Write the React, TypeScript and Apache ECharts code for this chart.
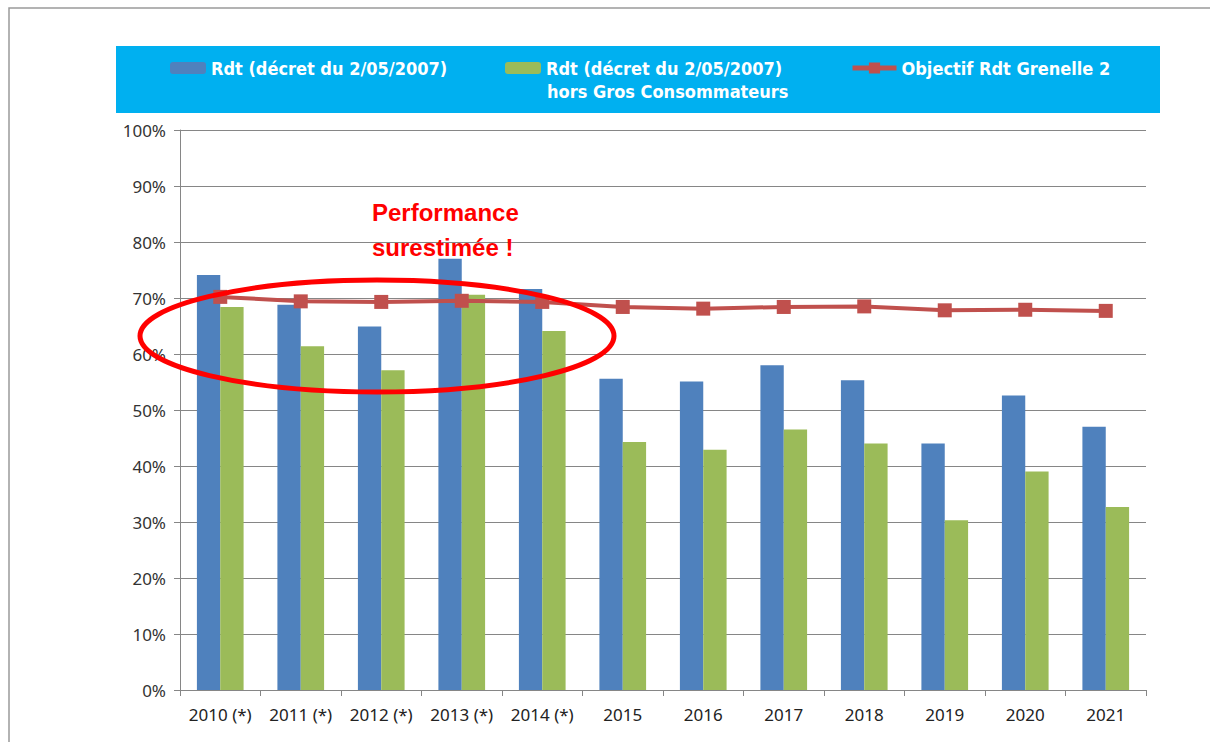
import React, { useEffect, useRef } from "react";
import * as echarts from "echarts";

const categories = ["2010 (*)", "2011 (*)", "2012 (*)", "2013 (*)", "2014 (*)", "2015", "2016", "2017", "2018", "2019", "2020", "2021"];
const rdtValues = [74.1, 68.8, 64.9, 77.0, 71.6, 55.6, 55.1, 58.0, 55.3, 44.0, 52.6, 47.0];
const rdtHorsGCValues = [68.4, 61.4, 57.1, 70.6, 64.1, 44.3, 42.9, 46.5, 44.0, 30.3, 39.0, 32.7];
const objectifValues = [70.2, 69.4, 69.3, 69.5, 69.3, 68.4, 68.1, 68.4, 68.5, 67.8, 67.9, 67.7];
const yTicks = [0, 10, 20, 30, 40, 50, 60, 70, 80, 90, 100];

const NAME_BLUE = "Rdt (décret du 2/05/2007)";
const NAME_GREEN = "Rdt (décret du 2/05/2007) hors Gros Consommateurs";
const NAME_RED = "Objectif Rdt Grenelle 2";

const legendFont = {
  color: "#ffffff",
  fontFamily: "'Liberation Sans Narrow', 'DejaVu Sans Condensed', Arial, sans-serif",
  fontWeight: "bold" as const,
  fontSize: 18,
};

export default function App() {
  const ref = useRef<HTMLDivElement>(null);
  useEffect(() => {
    if (!ref.current) return;
    const chart = echarts.init(ref.current, undefined, { renderer: "svg" });
    chart.setOption({
      animation: false,
      backgroundColor: "#ffffff",
      grid: { left: 180, right: 64, top: 130, bottom: 52, containLabel: false },
      legend: [
        {
          data: [NAME_BLUE], left: 170, top: 59, itemWidth: 36, itemHeight: 12, itemGap: 6,
          textStyle: legendFont, selectedMode: false, padding: 0,
        },
        {
          data: [NAME_GREEN], left: 505, top: 59, itemWidth: 36, itemHeight: 12, itemGap: 6,
          textStyle: legendFont, selectedMode: false, padding: 0,
          formatter: () => "Rdt (décret du 2/05/2007)",
        },
        {
          data: [NAME_RED], left: 850, top: 59, itemWidth: 44, itemHeight: 14, itemGap: 4,
          textStyle: legendFont, selectedMode: false, padding: 0,
          lineStyle: { width: 5, color: "#C0504D" },
        },
      ],
      xAxis: {
        type: "category",
        data: categories,
        axisLine: { show: true, lineStyle: { color: "#868686", width: 1 } },
        axisTick: { show: true, length: 6, lineStyle: { color: "#868686" } },
        axisLabel: {
          interval: 0, margin: 16, color: "#222",
          fontFamily: "'Noto Sans', 'Open Sans', sans-serif", fontSize: 17,
        },
      },
      yAxis: {
        type: "value",
        min: yTicks[0],
        max: yTicks[yTicks.length - 1],
        interval: 10,
        axisLine: { show: true, lineStyle: { color: "#868686", width: 1 } },
        axisTick: { show: true, length: 6, lineStyle: { color: "#868686" } },
        splitLine: { show: true, lineStyle: { color: "#868686", width: 1 } },
        axisLabel: {
          formatter: "{value}%", margin: 14, color: "#333",
          fontFamily: "'Noto Sans', 'Open Sans', sans-serif", fontSize: 17,
        },
      },
      series: [
        {
          name: NAME_BLUE, type: "bar", data: rdtValues, barGap: "0%", barCategoryGap: "42%",
          itemStyle: { color: "#4F81BD" },
        },
        {
          name: NAME_GREEN, type: "bar", data: rdtHorsGCValues,
          itemStyle: { color: "#9BBB59" },
        },
        {
          name: NAME_RED, type: "line", data: objectifValues, symbol: "rect", symbolSize: 14,
          lineStyle: { color: "#C0504D", width: 4 }, itemStyle: { color: "#C0504D" }, z: 5,
        },
      ],
      graphic: [
        {
          type: "rect", z: -10, silent: true,
          shape: { x: 9, y: 8, width: 1400, height: 900 },
          style: { fill: "none", stroke: "#9a9a9a", lineWidth: 1.5 },
        },
        {
          type: "rect", z: 0, silent: true,
          shape: { x: 116, y: 46, width: 1044, height: 67 },
          style: { fill: "#00B0F0" },
        },
        {
          type: "text", z: 10, x: 547, y: 91, silent: true,
          style: {
            text: "hors Gros Consommateurs", fill: "#ffffff",
            fontFamily: legendFont.fontFamily, fontWeight: "bold", fontSize: 18,
            verticalAlign: "middle",
          },
        },
        {
          type: "ellipse", z: 50, silent: true,
          shape: { cx: 377, cy: 336, rx: 237, ry: 56 },
          style: { fill: "none", stroke: "#FF0000", lineWidth: 5 },
        },
        {
          type: "text", z: 50, x: 372, y: 212, silent: true,
          style: {
            text: "Performance", fill: "#FF0000",
            fontFamily: "'Liberation Sans', Arial, sans-serif", fontWeight: "bold", fontSize: 24,
            verticalAlign: "middle",
          },
        },
        {
          type: "text", z: 50, x: 372, y: 247, silent: true,
          style: {
            text: "surestimée !", fill: "#FF0000",
            fontFamily: "'Liberation Sans', Arial, sans-serif", fontWeight: "bold", fontSize: 24,
            verticalAlign: "middle",
          },
        },
      ],
    });
    return () => chart.dispose();
  }, []);
  return (
    <div
      ref={ref}
      style={{ position: "fixed", left: 0, top: 0, width: 1210, height: 742, background: "#fff" }}
    />
  );
}
